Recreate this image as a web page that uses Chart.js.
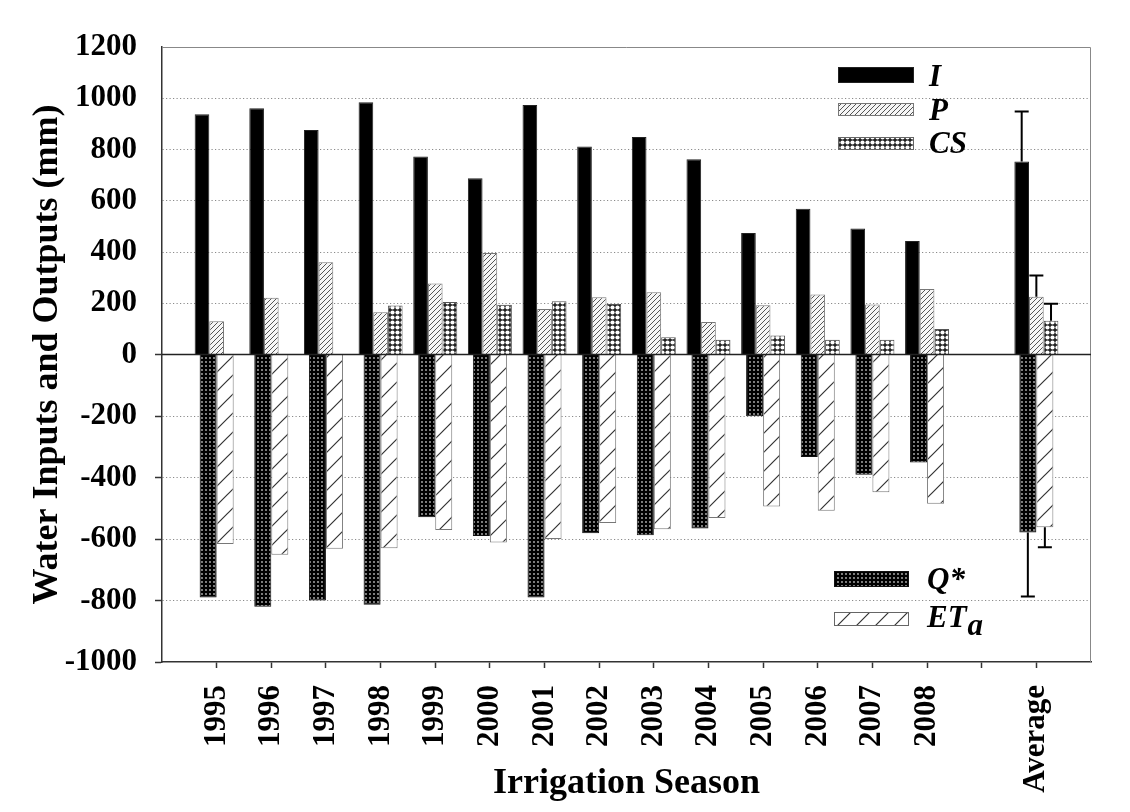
<!DOCTYPE html>
<html>
<head>
<meta charset="utf-8">
<title>Water Inputs and Outputs</title>
<script src="https://cdn.jsdelivr.net/npm/chart.js@4.4.1/dist/chart.umd.min.js"></script>
<style>
  html, body { margin: 0; padding: 0; background: #fff; }
  #wrap { width: 1130px; height: 812px; }
</style>
</head>
<body>
<div id="wrap"><canvas id="chart" width="1130" height="812"></canvas></div>
<script>
// ── Data (mm) ───────────────────────────────────────
const years = ['1995', '1996', '1997', '1998', '1999', '2000', '2001',
  '2002', '2003', '2004', '2005', '2006', '2007', '2008'];
const seriesI  = [938, 961, 876, 984, 773, 688, 974, 812, 849, 762, 474, 569, 492, 443];
const seriesP  = [130, 221, 360, 165, 277, 396, 178, 223, 243, 127, 192, 234, 195, 256];
const seriesCS = [null, null, null, 191, 205, 194, 208, 197, 67, 58, 74, 58, 58, 100];
const seriesQ  = [-790, -820, -800, -814, -529, -590, -790, -581, -588, -566, -201, -333, -391, -351];
const seriesET = [-616, -651, -632, -630, -571, -611, -600, -548, -568, -532, -494, -508, -448, -485];
// Average column, order I, P, CS, Q*, ETa, and the end of its error bar
const avgValues = [753, 225, 132, -579, -562];
const avgUpper  = [948, 308, 198, -787, -627];

const posTicks = [0, 200, 400, 600, 800, 1000, 1200];
const negTicks = [-1000, -800, -600, -400, -200, 0];

// empty slot before 1995, a gap before Average, empty slot at the end
const labels = ['', ...years, '', 'Average', ''];
const AVG_INDEX = labels.indexOf('Average');
function column(vals, avg) {
  return [null, ...vals, null, avg, null];
}

const SERIF = '"Liberation Serif", "Times New Roman", serif';
Chart.defaults.font.family = SERIF;
Chart.defaults.color = '#000';

// ── Fill patterns ───────────────────────────────────
const mainCtx = document.getElementById('chart').getContext('2d');

function makePattern(size, draw) {
  const c = document.createElement('canvas');
  c.width = size;
  c.height = size;
  draw(c.getContext('2d'), size);
  return mainCtx.createPattern(c, 'repeat');
}

function diagonal(g, s) {
  g.beginPath();
  g.moveTo(0, s); g.lineTo(s, 0);
  g.moveTo(-1, 1); g.lineTo(1, -1);
  g.moveTo(s - 1, s + 1); g.lineTo(s + 1, s - 1);
  g.stroke();
}

const fillP = makePattern(5, (g, s) => {
  g.fillStyle = '#f6f6f6'; g.fillRect(0, 0, s, s);
  g.strokeStyle = '#555'; g.lineWidth = 1;
  diagonal(g, s);
});
const fillET = makePattern(19, (g, s) => {
  g.fillStyle = '#fff'; g.fillRect(0, 0, s, s);
  g.strokeStyle = '#333'; g.lineWidth = 1.2;
  diagonal(g, s);
});
const fillCS = makePattern(5, (g, s) => {
  g.fillStyle = '#222'; g.fillRect(0, 0, s, s);
  g.fillStyle = '#fff';
  g.beginPath(); g.arc(s / 2, s / 2, 2.1, 0, Math.PI * 2); g.fill();
});
const fillQ = makePattern(4, (g, s) => {
  g.fillStyle = '#000'; g.fillRect(0, 0, s, s);
  g.fillStyle = '#b8b8b8';
  g.beginPath(); g.arc(s / 2, s / 2, 0.9, 0, Math.PI * 2); g.fill();
});

// ── Legend entries ──────────────────────────────────
const legendTop = [
  { text: 'I', fill: '#000', border: '#222' },
  { text: 'P', fill: fillP, border: '#777' },
  { text: 'CS', fill: fillCS, border: '#666' },
];
const legendBottom = [
  { text: 'Q*', fill: fillQ, border: '#111' },
  { text: 'ET', sub: 'a', fill: fillET, border: '#666' },
];

// ── Extras: zero line, frame, error bars, legend, titles ──
const extras = {
  id: 'extras',
  afterDatasetsDraw(chart) {
    const { ctx, chartArea: a, scales } = chart;
    const y0 = scales.yPos.getPixelForValue(0);

    ctx.save();
    // frame top / right
    ctx.strokeStyle = '#888';
    ctx.lineWidth = 1;
    ctx.beginPath();
    ctx.moveTo(a.left, a.top + 0.5);
    ctx.lineTo(a.right - 0.5, a.top + 0.5);
    ctx.lineTo(a.right - 0.5, a.bottom);
    ctx.stroke();

    // zero line
    ctx.strokeStyle = '#222';
    ctx.lineWidth = 1.5;
    ctx.beginPath();
    ctx.moveTo(a.left, y0);
    ctx.lineTo(a.right, y0);
    ctx.stroke();

    // error bars on the Average column
    ctx.strokeStyle = '#000';
    ctx.lineWidth = 2;
    chart.data.datasets.forEach((ds, i) => {
      const el = chart.getDatasetMeta(i).data[AVG_INDEX];
      if (!el) return;
      const scale = scales[ds.yAxisID];
      const yEnd = scale.getPixelForValue(avgUpper[i]);
      ctx.beginPath();
      ctx.moveTo(el.x, el.y);
      ctx.lineTo(el.x, yEnd);
      ctx.moveTo(el.x - 7, yEnd);
      ctx.lineTo(el.x + 7, yEnd);
      ctx.stroke();
    });
    ctx.restore();
  },
  afterDraw(chart) {
    const { ctx, chartArea: a } = chart;
    ctx.save();

    // legends
    ctx.font = `italic bold 31px ${SERIF}`;
    ctx.textAlign = 'left';
    ctx.textBaseline = 'alphabetic';
    const topRows = [{ y: 20, h: 16, base: 39 }, { y: 56, h: 13, base: 73 }, { y: 90, h: 13, base: 106 }];
    legendTop.forEach((item, i) => {
      const r = topRows[i];
      const x = a.right - 253;
      ctx.fillStyle = item.fill;
      ctx.fillRect(x, a.top + r.y, 76, r.h);
      ctx.strokeStyle = item.border;
      ctx.lineWidth = 1;
      ctx.strokeRect(x + 0.5, a.top + r.y + 0.5, 75, r.h - 1);
      ctx.fillStyle = '#000';
      ctx.fillText(item.text, a.right - 162, a.top + r.base);
    });
    const botRows = [{ y: 91, h: 16, base: 73 }, { y: 50, h: 14, base: 35 }];
    legendBottom.forEach((item, i) => {
      const r = botRows[i];
      const x = a.right - 257;
      ctx.fillStyle = item.fill;
      ctx.fillRect(x, a.bottom - r.y, 75, r.h);
      ctx.strokeStyle = item.border;
      ctx.lineWidth = 1;
      ctx.strokeRect(x + 0.5, a.bottom - r.y + 0.5, 74, r.h - 1);
      ctx.fillStyle = '#000';
      const tx = a.right - 164;
      ctx.fillText(item.text, tx, a.bottom - r.base);
      if (item.sub) {
        const w = ctx.measureText(item.text).width;
        ctx.fillText(item.sub, tx + w + 1, a.bottom - r.base + 8);
      }
    });

    // axis titles
    ctx.font = `bold 36px ${SERIF}`;
    ctx.fillStyle = '#000';
    ctx.textAlign = 'center';
    ctx.fillText('Irrigation Season', (a.left + a.right) / 2, 793);
    ctx.translate(57, (a.top + a.bottom) / 2);
    ctx.rotate(-Math.PI / 2);
    ctx.fillText('Water Inputs and Outputs (mm)', 0, 0);
    ctx.restore();
  },
};

// ── Chart ───────────────────────────────────────────
const tickFont = { family: SERIF, size: 31, weight: 'bold' };
const GRID_DOT = '#8a8a8a';
const AXIS = '#333';

// All bars share one group of three slots (a, b, c). The two outflow
// bars take the outer slots of a narrower group and are widened so they
// sit side by side around the year tick.
function barSet(label, data, fill, border, yAxisID, stack, catPct, barPct) {
  return {
    label, data, yAxisID, stack,
    backgroundColor: fill,
    borderColor: border,
    borderWidth: 1,
    barPercentage: barPct,
    categoryPercentage: catPct,
  };
}

new Chart(mainCtx, {
  type: 'bar',
  data: {
    labels,
    datasets: [
      barSet('I', column(seriesI, avgValues[0]), '#000', '#222', 'yPos', 'a', 0.805, 1),
      barSet('P', column(seriesP, avgValues[1]), fillP, '#777', 'yPos', 'b', 0.805, 1),
      barSet('CS', column(seriesCS, avgValues[2]), fillCS, '#555', 'yPos', 'c', 0.805, 1),
      barSet('Q*', column(seriesQ, avgValues[3]), fillQ, '#111', 'yNeg', 'a', 0.467, 2),
      barSet('ETa', column(seriesET, avgValues[4]), fillET, '#777', 'yNeg', 'c', 0.467, 2),
    ],
  },
  options: {
    responsive: false,
    animation: false,
    layout: { padding: { left: 0, top: 47, right: 39, bottom: 0 } },
    plugins: { legend: { display: false }, tooltip: { enabled: false } },
    scales: {
      x: {
        type: 'category',
        position: 'bottom',
        offset: false,
        grid: {
          offset: false,
          drawOnChartArea: false,
          tickLength: 6,
          tickWidth: 1.5,
          tickColor: (c) => (c.index === 0 || c.index === labels.length - 1 ? 'transparent' : AXIS),
        },
        border: { color: AXIS, width: 1.5 },
        ticks: {
          autoSkip: false,
          maxRotation: 90,
          minRotation: 90,
          padding: 17,
          color: '#000',
          font: tickFont,
        },
        afterFit: (s) => { s.height = 150; s.paddingLeft = 0; s.paddingRight = 0; },
      },
      yPos: {
        type: 'linear',
        position: 'left',
        stack: 'v',
        stackWeight: 1,
        weight: 2,
        stacked: false,
        min: 0,
        max: 1200,
        afterBuildTicks: (s) => { s.ticks = posTicks.map((v) => ({ value: v })); },
        ticks: {
          autoSkip: false,
          padding: 18,
          color: '#000',
          font: tickFont,
          callback: (v) => String(v),
        },
        grid: {
          color: (c) => (c.tick && (c.tick.value === 0 || c.tick.value === 1200) ? 'transparent' : GRID_DOT),
          lineWidth: 1,
          tickLength: 7,
          tickWidth: 1.5,
          tickColor: (c) => (c.tick && c.tick.value === 0 ? AXIS : 'transparent'),
        },
        border: { color: AXIS, width: 1.5, dash: [1.2, 2.3] },
        afterFit: (s) => { s.width = 162; s.paddingTop = 0; s.paddingBottom = 0; },
      },
      yNeg: {
        type: 'linear',
        position: 'left',
        stack: 'v',
        stackWeight: 1,
        weight: 1,
        stacked: false,
        min: -1000,
        max: 0,
        afterBuildTicks: (s) => { s.ticks = negTicks.map((v) => ({ value: v })); },
        ticks: {
          autoSkip: false,
          padding: 18,
          color: '#000',
          font: tickFont,
          callback: (v) => (v === 0 ? '' : String(v)),
        },
        grid: {
          color: (c) => (c.tick && (c.tick.value === 0 || c.tick.value === -1000) ? 'transparent' : GRID_DOT),
          lineWidth: 1,
          tickLength: 7,
          tickWidth: 1.5,
          tickColor: (c) => (c.tick && c.tick.value === 0 ? 'transparent' : AXIS),
        },
        border: { color: AXIS, width: 1.5, dash: [1.2, 2.3] },
        afterFit: (s) => { s.width = 162; s.paddingTop = 0; s.paddingBottom = 0; },
      },
    },
  },
  plugins: [extras],
});
</script>
</body>
</html>
